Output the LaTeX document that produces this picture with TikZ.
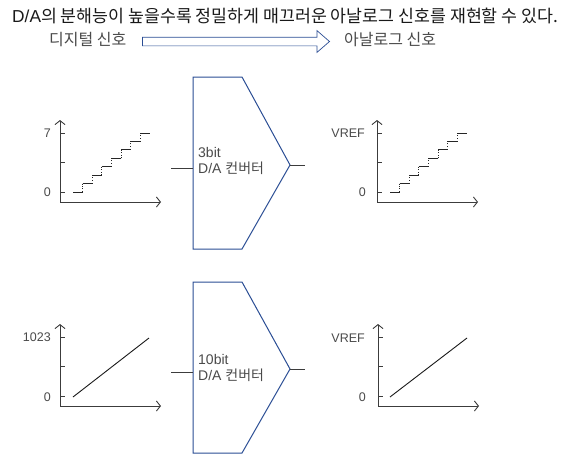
\documentclass[tikz,border=0pt]{standalone}
\usepackage{fontspec}
\setmainfont{Liberation Sans}
\newfontfamily\kr{Noto Sans CJK KR}
\usetikzlibrary{arrows.meta,shapes.arrows,positioning}

\definecolor{dablue}{HTML}{2A4D94}
\definecolor{axisgray}{HTML}{3C3C3C}
\definecolor{textgray}{HTML}{4A4A4A}

\tikzset{
  axis/.style={draw=axisgray,line width=0.9pt,-{Straight Barb[length=4pt,width=10pt]}},
  tick/.style={draw=axisgray,line width=0.8pt},
  stairh/.style={draw=black!85,line width=0.8pt},
  stairv/.style={draw=black!85,line width=0.8pt,dotted},
  ramp/.style={draw=black!90,line width=0.9pt},
  ticklabel/.style={anchor=east,text=textgray,font=\fontsize{12.5}{14}\selectfont,inner sep=1pt},
  converter/.style={draw=dablue,line width=1pt,line join=miter},
  wire/.style={draw=axisgray,line width=0.9pt},
  convlabel/.style={anchor=west,align=left,text=textgray,font=\fontsize{14}{16}\selectfont,inner sep=0pt},
  flowlabel/.style={anchor=west,inner sep=0pt,text=textgray,font=\kr\fontsize{16}{18}\selectfont}
}

\begin{document}
\begin{tikzpicture}[x=1pt,y=-1pt]
  \useasboundingbox (0,0) rectangle (570,455);

  % title and signal direction
  \node[anchor=west,inner sep=0pt,text=black!90,font=\fontsize{17.3}{19}\selectfont] (title) at (12,16)
    {D/A{\kr 의 분해능이 높을수록 정밀하게 매끄러운 아날로그 신호를 재현할 수 있다.}};
  \node[flowlabel] (digital) at (49,40) {디지털 신호};
  \node[flowlabel] (analog) at (344,40) {아날로그 신호};
  \node[single arrow,draw=dablue,fill=white,line width=0.7pt,inner xsep=0pt,inner ysep=4pt,
        minimum height=187pt,single arrow head extend=6.5pt,
        single arrow tip angle=82] (flow) at (233.5,41.5) {};

  % axes with three ticks, one frame per graph
  \foreach \gx/\gy in {60/202,377/202,60/406,378/406} {
    \begin{scope}[shift={(\gx,\gy)}]
      \draw[axis] (0,0) -- (0,-82);
      \draw[axis] (0,0) -- (101,0);
      \foreach \t in {-10,-40,-69}
        \draw[tick] (0,\t) -- ++(5,0);
    \end{scope}
  }

  % 3bit: eight levels
  \foreach \gx in {60,377} {
    \begin{scope}[shift={(\gx,202)}]
      \foreach \k in {0,...,7} {
        \draw[stairh] ({13+9.6*\k},{-10-8.43*\k}) -- ++(9.6,0);
        \ifnum\k<7
          \draw[stairv] ({13+9.6*(\k+1)},{-10-8.43*\k}) -- ++(0,-8.43);
        \fi
      }
    \end{scope}
  }

  % 10bit: nearly a straight line
  \draw[ramp] (73,397) -- (149,338);
  \draw[ramp] (390,397) -- (467,338);

  % tick labels
  \node[ticklabel] (inmax) at (52,133) {7};
  \node[ticklabel] (inzero) at (52,192) {0};
  \node[ticklabel] (outmax) at (366,133) {VREF};
  \node[ticklabel] (outzero) at (367,192) {0};
  \node[ticklabel] (inmaxb) at (52,337) {1023};
  \node[ticklabel] (inzerob) at (52,397) {0};
  \node[ticklabel] (outmaxb) at (366,338) {VREF};
  \node[ticklabel] (outzerob) at (367,397) {0};

  % 3bit converter
  \coordinate (dacAin) at (171,168);
  \coordinate (dacAedge) at (193,168);
  \coordinate (dacAtip) at (290,165);
  \coordinate (dacAout) at (305,165);
  \draw[converter] (193,77) -- (242,77) -- (dacAtip) -- (242,249) -- (193,249) -- cycle;
  \draw[wire] (dacAin) -- (dacAedge);
  \draw[wire] (dacAtip) -- (dacAout);
  \node[convlabel] (dacA) at (198,161) {3bit\\D/A {\kr 컨버터}};

  % 10bit converter
  \coordinate (dacBin) at (171,372);
  \coordinate (dacBedge) at (193,372);
  \coordinate (dacBtip) at (290,369);
  \coordinate (dacBout) at (305,369);
  \draw[converter] (193,282) -- (242,282) -- (dacBtip) -- (242,453) -- (193,453) -- cycle;
  \draw[wire] (dacBin) -- (dacBedge);
  \draw[wire] (dacBtip) -- (dacBout);
  \node[convlabel] (dacB) at (198,368) {10bit\\D/A {\kr 컨버터}};
\end{tikzpicture}
\end{document}
